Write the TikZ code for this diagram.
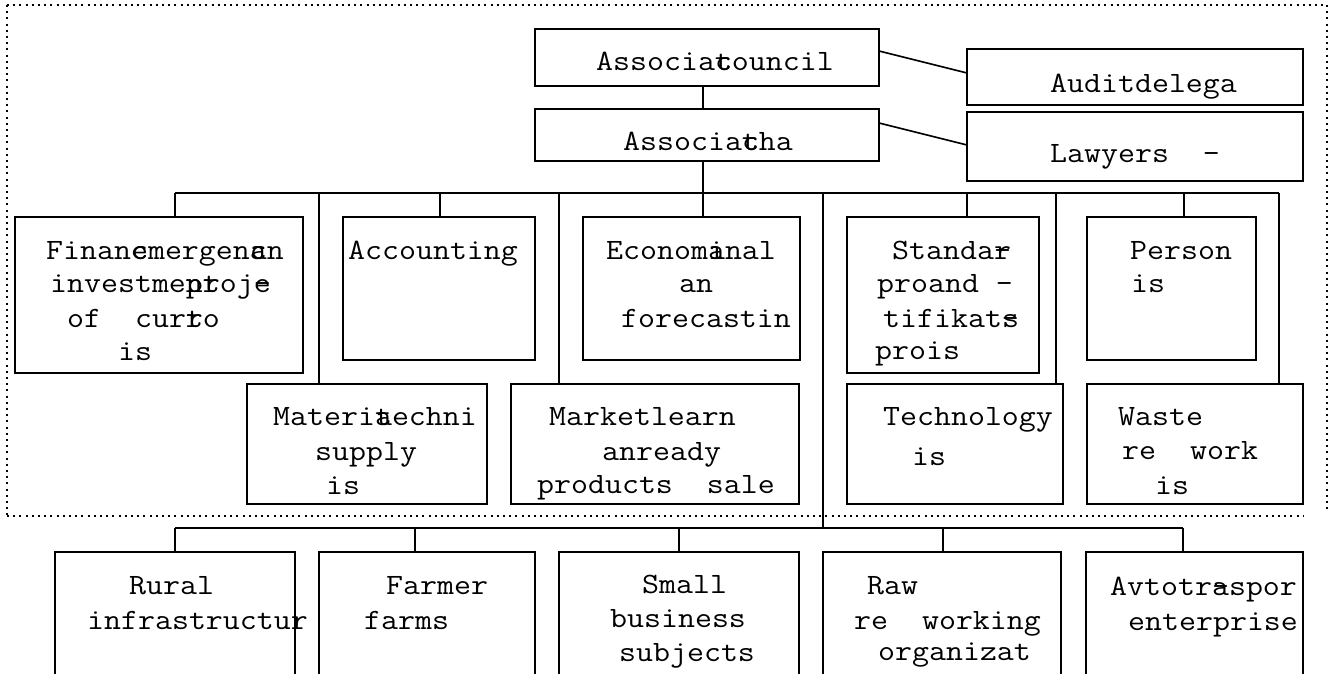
\documentclass[tikz,border=0pt]{standalone}
\usepackage{fontspec}
\usepackage{graphicx}
\usetikzlibrary{fit}
\newcommand\ov[1]{\rlap{#1}}
\tikzset{
  box/.style={draw, line width=1.7pt, inner sep=0pt, outer sep=0pt},
  txt/.style={inner sep=0pt, anchor=base west, font=\ttfamily\fontsize{29.5}{34}\selectfont},
  wire/.style={line width=1.6pt},
  frame/.style={line width=1.8pt, dash pattern=on 2pt off 4.2pt}
}
\newcommand\bx[5]{\node[box, fit={(#2,#3) (#4,#5)}] (#1) {};}
\newcommand\txtline[4]{\node[txt] (#1) at (#2,#3+7) {\scalebox{1.117}[1]{#4}};}
\begin{document}
\begin{tikzpicture}[x=1pt,y=-1pt]
\useasboundingbox (0,0) rectangle (1331,673);
\fill[white] (0,0) rectangle (1331,673);
\clip (0,0) rectangle (1331,673);
% dotted frame
\draw[frame] (7,5) -- (1327,5);
\draw[frame] (7,5) -- (7,516);
\draw[frame] (7,516) -- (1303,516);
\draw[frame] (1327,5) -- (1327,512);
% boxes
\bx{council}{535}{29}{879}{86}
\bx{cha}{535}{109}{879}{161}
\bx{audit}{967}{49}{1303}{105}
\bx{lawyers}{967}{112}{1303}{181}
\bx{finan}{15}{217}{303}{373}
\bx{acc}{343}{217}{535}{360}
\bx{econ}{583}{217}{800}{360}
\bx{stand}{847}{217}{1039}{373}
\bx{person}{1087}{217}{1256}{360}
\bx{materi}{247}{384}{487}{504}
\bx{market}{511}{384}{799}{504}
\bx{tech}{847}{384}{1063}{504}
\bx{waste}{1087}{384}{1303}{504}
\bx{rural}{55}{552}{295}{695}
\bx{farmer}{319}{552}{535}{695}
\bx{small}{559}{552}{799}{695}
\bx{raw}{823}{552}{1061}{695}
\bx{avto}{1086}{552}{1303}{695}
% texts
\txtline{t-council}{596}{63}{Associa\ov{t}council}
\txtline{t-cha}{623}{143}{Associa\ov{t}cha}
\txtline{t-audit}{1050}{85}{Auditdelega}
\txtline{t-lawyers}{1050}{155}{Lawyers~~-}
\txtline{t-fin1}{46}{252}{Finan\ov{c}emergen\ov{c}an}
\txtline{t-fin2}{50}{285}{investme\ov{nt}proj\ov{-}e}
\txtline{t-fin3}{67}{320}{of~~cur\ov{r}to}
\txtline{t-fin4}{118}{353}{is}
\txtline{t-acc}{348}{252}{Accounting}
\txtline{t-eco1}{606}{252}{Econom\ov{i}anal}
\txtline{t-eco2}{679}{285}{an}
\txtline{t-eco3}{621}{320}{forecastin}
\txtline{t-sta1}{892}{252}{Standa\ov{-}r}
\txtline{t-sta2}{877}{285}{proand~-}
\txtline{t-sta3}{883}{320}{tifikat\ov{-}s}
\txtline{t-sta4}{875}{352}{prois}
\txtline{t-per1}{1130}{252}{Person}
\txtline{t-per2}{1131}{285}{is}
\txtline{t-mat1}{273}{418}{Materi\ov{a}techni}
\txtline{t-mat2}{315}{453}{supply}
\txtline{t-mat3}{326}{487}{is}
\txtline{t-mar1}{549}{418}{Marketlearn}
\txtline{t-mar2}{602}{453}{anready}
\txtline{t-mar3}{537}{486}{products~~sale}
\txtline{t-tec1}{883}{418}{Technology}
\txtline{t-tec2}{912}{458}{is}
\txtline{t-was1}{1118}{418}{Waste}
\txtline{t-was2}{1122}{452}{re~~work}
\txtline{t-was3}{1155}{487}{is}
\txtline{t-rur1}{129}{587}{Rural}
\txtline{t-rur2}{87}{622}{infrastructur}
\txtline{t-far1}{386}{587}{Farmer}
\txtline{t-far2}{364}{622}{farms}
\txtline{t-sma1}{642}{586}{Small}
\txtline{t-sma2}{610}{620}{business}
\txtline{t-sma3}{619}{654}{subjects}
\txtline{t-raw1}{867}{587}{Raw}
\txtline{t-raw2}{854}{622}{re~~working}
\txtline{t-raw3}{878}{653}{organizat}
\txtline{t-avt1}{1110}{588}{Avtotr\ov{-}aspor}
\txtline{t-avt2}{1128}{623}{enterprise}
% connectors
\coordinate (tk) at (703,193);
\draw[wire] (council.south -| tk) -- (cha.north -| tk);
\draw[wire] (cha.south -| tk) -- (tk);
\draw[wire] ([yshift=-22pt]council.north east) -- ([yshift=-24pt]audit.north west);
\draw[wire] ([yshift=-14pt]cha.north east) -- ([yshift=-33pt]lawyers.north west);
% upper bus
\coordinate (d1) at (175,193);
\coordinate (d2) at (319,193);
\coordinate (d3) at (440,193);
\coordinate (d4) at (559,193);
\coordinate (d6) at (823,193);
\coordinate (d7) at (967,193);
\coordinate (d8) at (1056,193);
\coordinate (d9) at (1184,193);
\coordinate (d10) at (1279,193);
\draw[wire] (d1) -- (d10);
\draw[wire] (d1) -- (d1 |- finan.north);
\draw[wire] (d2) -- (d2 |- materi.north);
\draw[wire] (d3) -- (d3 |- acc.north);
\draw[wire] (d4) -- (d4 |- market.north);
\draw[wire] (tk) -- (tk |- econ.north);
\draw[wire] (d7) -- (d7 |- stand.north);
\draw[wire] (d8) -- (d8 |- tech.north);
\draw[wire] (d9) -- (d9 |- person.north);
\draw[wire] (d10) -- (d10 |- waste.north);
% lower bus
\coordinate (l1) at (175,528);
\coordinate (l2) at (415,528);
\coordinate (l3) at (679,528);
\coordinate (l4) at (943,528);
\coordinate (l5) at (1183,528);
\draw[wire] (d6) -- (d6 |- l1);
\draw[wire] (l1) -- (l5);
\draw[wire] (l1) -- (l1 |- rural.north);
\draw[wire] (l2) -- (l2 |- farmer.north);
\draw[wire] (l3) -- (l3 |- small.north);
\draw[wire] (l4) -- (l4 |- raw.north);
\draw[wire] (l5) -- (l5 |- avto.north);
\end{tikzpicture}
\end{document}
